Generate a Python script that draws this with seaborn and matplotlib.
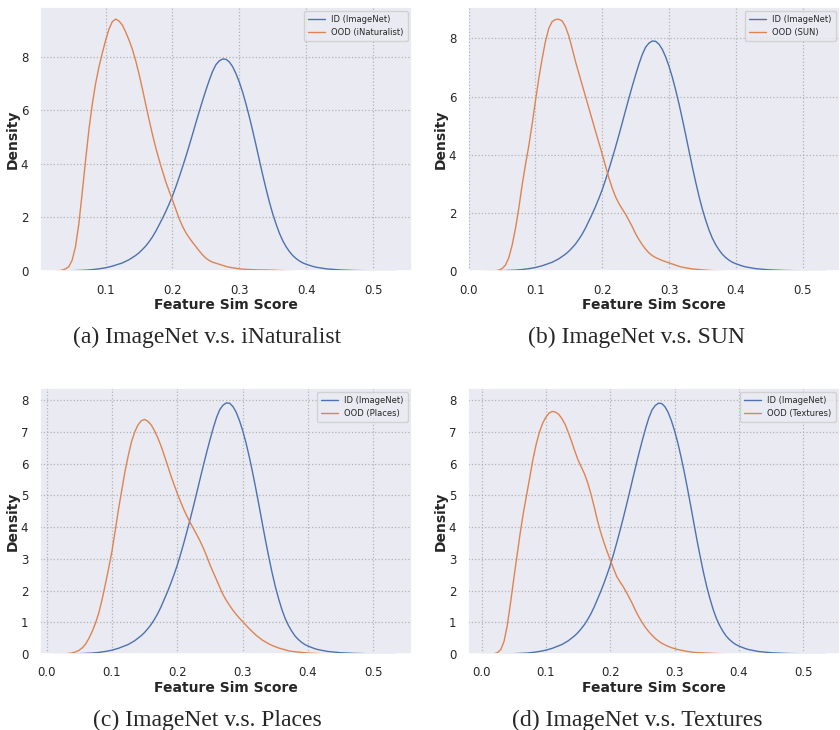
import matplotlib
matplotlib.use("Agg")
import matplotlib.pyplot as plt
import seaborn as sns

# ------------------------------------------------------------
# Density curves, one value every 0.005
# ------------------------------------------------------------

step = 0.005

# ID (ImageNet) curve, same in all four panels, from x = 0.03
id_start = 0.03
id_density = [
    0.0, 0.002, 0.005, 0.007, 0.01, 0.015, 0.02, 0.025, 0.03, 0.04,
    0.05, 0.065, 0.08, 0.10, 0.12, 0.15, 0.18, 0.22, 0.26, 0.30,
    0.36, 0.42, 0.50, 0.58, 0.68, 0.80, 0.93, 1.09, 1.27, 1.48,
    1.72, 1.96, 2.22, 2.50, 2.80, 3.14, 3.50, 3.88, 4.27, 4.68,
    5.10, 5.53, 5.95, 6.36, 6.75, 7.12, 7.45, 7.70, 7.84, 7.91,
    7.90, 7.80, 7.62, 7.36, 7.04, 6.66, 6.22, 5.74, 5.22, 4.68,
    4.12, 3.57, 3.05, 2.56, 2.12, 1.74, 1.40, 1.12, 0.90, 0.72,
    0.57, 0.46, 0.37, 0.30, 0.25, 0.21, 0.17, 0.14, 0.12, 0.10,
    0.08, 0.07, 0.06, 0.05, 0.04, 0.035, 0.03, 0.025, 0.02, 0.017,
    0.015, 0.012, 0.01, 0.008, 0.007, 0.006, 0.005, 0.004, 0.003, 0.002,
    0.001, 0.0,
]

# OOD (iNaturalist), from x = 0.025
inat_start = 0.025
inat_density = [
    0.0, 0.01, 0.03, 0.08, 0.16, 0.40, 0.90, 1.75, 2.90, 4.10,
    5.25, 6.20, 6.98, 7.60, 8.12, 8.60, 9.02, 9.30, 9.40, 9.33,
    9.18, 8.92, 8.62, 8.28, 7.85, 7.35, 6.80, 6.22, 5.65, 5.10,
    4.60, 4.15, 3.73, 3.33, 2.98, 2.65, 2.30, 1.95, 1.67, 1.43,
    1.24, 1.07, 0.91, 0.75, 0.60, 0.48, 0.39, 0.33, 0.29, 0.25,
    0.21, 0.17, 0.14, 0.12, 0.10, 0.08, 0.07, 0.06, 0.055, 0.05,
    0.045, 0.04, 0.04, 0.04, 0.035, 0.03, 0.025, 0.02, 0.015, 0.01,
    0.005, 0.0,
]

# OOD (SUN), from x = 0.02
sun_start = 0.02
sun_density = [
    0.0, 0.0, 0.0, 0.005, 0.01, 0.03, 0.08, 0.20, 0.45, 0.88,
    1.45, 2.15, 2.95, 3.65, 4.30, 5.05, 5.85, 6.62, 7.30, 7.90,
    8.35, 8.58, 8.65, 8.66, 8.60, 8.40, 8.08, 7.65, 7.20, 6.80,
    6.40, 6.00, 5.60, 5.20, 4.80, 4.41, 4.02, 3.60, 3.20, 2.85,
    2.55, 2.32, 2.13, 1.95, 1.74, 1.52, 1.28, 1.08, 0.90, 0.75,
    0.62, 0.53, 0.46, 0.41, 0.36, 0.32, 0.28, 0.24, 0.20, 0.16,
    0.13, 0.11, 0.09, 0.07, 0.06, 0.05, 0.04, 0.03, 0.02, 0.015,
    0.01, 0.005, 0.0,
]

# OOD (Places), from x = 0.01
places_start = 0.01
places_density = [
    0.0, 0.0, 0.0, 0.005, 0.01, 0.02, 0.04, 0.07, 0.12, 0.20,
    0.32, 0.50, 0.72, 0.98, 1.30, 1.72, 2.20, 2.70, 3.23, 3.88,
    4.55, 5.15, 5.75, 6.25, 6.69, 7.00, 7.22, 7.35, 7.39, 7.33,
    7.22, 7.04, 6.82, 6.56, 6.26, 5.95, 5.63, 5.34, 5.06, 4.80,
    4.55, 4.33, 4.13, 3.94, 3.75, 3.55, 3.33, 3.08, 2.81, 2.57,
    2.34, 2.10, 1.87, 1.69, 1.53, 1.38, 1.25, 1.13, 1.02, 0.91,
    0.80, 0.70, 0.60, 0.52, 0.44, 0.38, 0.32, 0.27, 0.23, 0.19,
    0.16, 0.13, 0.10, 0.085, 0.07, 0.06, 0.05, 0.04, 0.03, 0.025,
    0.02, 0.015, 0.01, 0.005, 0.0,
]

# OOD (Textures), from x = 0.0
textures_start = 0.0
textures_density = [
    0.0, 0.0, 0.0, 0.002, 0.01, 0.05, 0.14, 0.40, 0.90, 1.60,
    2.35, 3.08, 3.80, 4.45, 5.01, 5.57, 6.15, 6.62, 7.00, 7.28,
    7.47, 7.60, 7.65, 7.63, 7.56, 7.42, 7.24, 6.98, 6.70, 6.40,
    6.12, 5.90, 5.68, 5.40, 5.05, 4.65, 4.22, 3.85, 3.53, 3.24,
    2.97, 2.70, 2.45, 2.28, 2.13, 1.95, 1.76, 1.56, 1.34, 1.15,
    0.98, 0.83, 0.70, 0.59, 0.49, 0.41, 0.34, 0.29, 0.24, 0.20,
    0.17, 0.14, 0.12, 0.10, 0.08, 0.065, 0.05, 0.045, 0.04, 0.035,
    0.03, 0.025, 0.02, 0.015, 0.01, 0.005, 0.0,
]

ood_names = ["iNaturalist", "SUN", "Places", "Textures"]
ood_curves = [
    (inat_start, inat_density),
    (sun_start, sun_density),
    (places_start, places_density),
    (textures_start, textures_density),
]
captions = [
    "(a) ImageNet v.s. iNaturalist",
    "(b) ImageNet v.s. SUN",
    "(c) ImageNet v.s. Places",
    "(d) ImageNet v.s. Textures",
]


def grid_for(start, values):
    return [round(start + step * i, 4) for i in range(len(values))]


# ------------------------------------------------------------
# Style
# ------------------------------------------------------------

sns.set_theme(style="darkgrid", rc={
    "grid.color": "#b3b3b3",
    "grid.linestyle": ":",
    "grid.linewidth": 0.9,
})
plt.rcParams["font.family"] = ["DejaVu Sans"]

palette = sns.color_palette("deep")

fig = plt.figure(figsize=(8.4, 7.3), dpi=100)

# axes rectangles in figure fractions (left, bottom, width, height)
boxes = [
    (40 / 840, 1 - 271 / 730, 372 / 840, 264 / 730),
    (468 / 840, 1 - 271 / 730, 372 / 840, 264 / 730),
    (40 / 840, 1 - 654 / 730, 372 / 840, 266 / 730),
    (468 / 840, 1 - 654 / 730, 372 / 840, 266 / 730),
]
x_limits = [(0.002, 0.558), (-0.001, 0.556), (-0.010, 0.559), (-0.021, 0.557)]
y_limits = [9.85, 9.08, 8.38, 8.39]
x_ticks = [
    [0.1, 0.2, 0.3, 0.4, 0.5],
    [0.0, 0.1, 0.2, 0.3, 0.4, 0.5],
    [0.0, 0.1, 0.2, 0.3, 0.4, 0.5],
    [0.0, 0.1, 0.2, 0.3, 0.4, 0.5],
]
y_ticks = [
    [0, 2, 4, 6, 8],
    [0, 2, 4, 6, 8],
    list(range(9)),
    list(range(9)),
]
caption_pos = [(207, 343), (637, 343), (207, 726), (637, 726)]

id_x = grid_for(id_start, id_density)

for i in range(4):
    ax = fig.add_axes(boxes[i])
    start, values = ood_curves[i]

    sns.lineplot(x=id_x, y=id_density, ax=ax, color=palette[0],
                 linewidth=1.0, label="ID (ImageNet)")
    sns.lineplot(x=grid_for(start, values), y=values, ax=ax,
                 color=palette[1], linewidth=1.0,
                 label=f"OOD ({ood_names[i]})")

    ax.set_xlim(*x_limits[i])
    ax.set_ylim(0, y_limits[i])
    ax.set_xticks(x_ticks[i])
    ax.set_yticks(y_ticks[i])
    ax.set_xticklabels([f"{t:.1f}" for t in x_ticks[i]])
    ax.tick_params(labelsize=8.5, pad=3)
    ax.tick_params(axis="y", pad=2.5)

    ax.set_xlabel("Feature Sim Score", fontsize=10, fontweight="bold",
                  labelpad=1)
    ax.set_ylabel("Density", fontsize=10, fontweight="bold", labelpad=1)

    ax.legend(loc="upper right", fontsize=6, handlelength=2.0,
              borderpad=0.5, labelspacing=0.4)

    cx, cy = caption_pos[i]
    fig.text(cx / 840, 1 - cy / 730, captions[i], ha="center",
             va="baseline", fontsize=17, family=["Liberation Serif"])

fig.savefig("out.png", dpi=100)
plt.close(fig)
